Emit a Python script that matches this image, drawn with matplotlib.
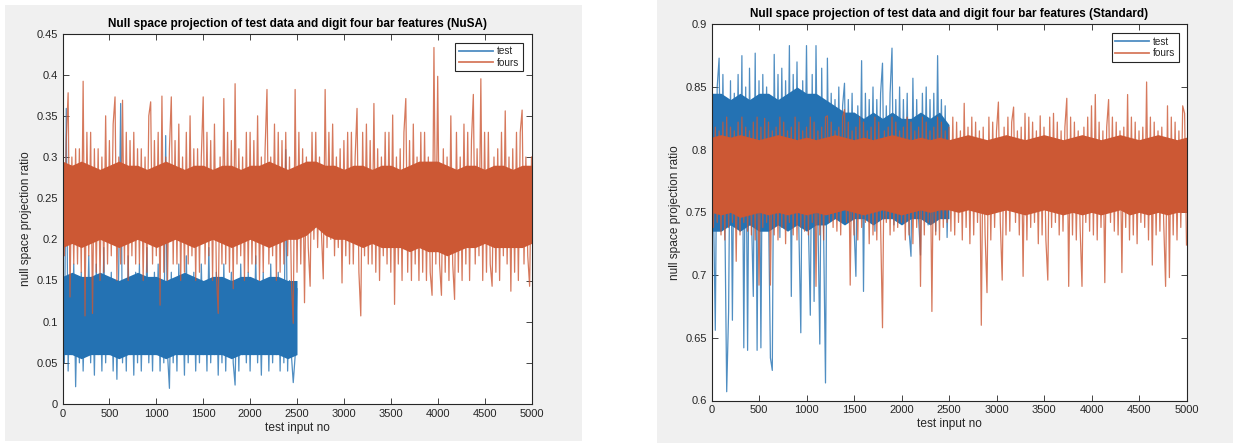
import numpy as np
import matplotlib
matplotlib.use("Agg")
import matplotlib.pyplot as plt
from matplotlib.patches import Rectangle

plt.rcParams['font.family'] = ['Liberation Sans', 'DejaVu Sans']

# ---------------- data ----------------
x_max_test = 2500
x_max_fours = 5000

# NuSA panel: test inputs (0..2500, step 20)
nusa_test = [
    0.16, 0.05, 0.359, 0.04, 0.15, 0.06, 0.17, 0.021, 0.14, 0.05,
    0.16, 0.04, 0.13, 0.06, 0.18, 0.05, 0.15, 0.035, 0.17, 0.06,
    0.14, 0.04, 0.19, 0.05, 0.15, 0.06, 0.16, 0.04, 0.14, 0.03,
    0.17, 0.365, 0.05, 0.15, 0.04, 0.18, 0.06, 0.14, 0.035, 0.16,
    0.05, 0.17, 0.04, 0.15, 0.06, 0.19, 0.05, 0.14, 0.04, 0.16,
    0.06, 0.17, 0.04, 0.15, 0.05, 0.326, 0.06, 0.019, 0.16, 0.05,
    0.14, 0.04, 0.17, 0.06, 0.15, 0.035, 0.18, 0.05, 0.14, 0.06,
    0.16, 0.04, 0.15, 0.05, 0.17, 0.06, 0.14, 0.04, 0.19, 0.05,
    0.15, 0.06, 0.16, 0.035, 0.14, 0.05, 0.17, 0.04, 0.15, 0.06,
    0.16, 0.05, 0.023, 0.15, 0.04, 0.17, 0.06, 0.14, 0.05, 0.16,
    0.04, 0.15, 0.06, 0.18, 0.05, 0.14, 0.035, 0.16, 0.06, 0.15,
    0.04, 0.17, 0.05, 0.14, 0.06, 0.16, 0.04, 0.15, 0.05, 0.309,
    0.04, 0.15, 0.06, 0.026, 0.058, 0.14,
]
# dense core of the NuSA test trace (0..2500, step 100)
nusa_test_core_lo = [0.06, 0.06, 0.055, 0.06, 0.06, 0.06, 0.055, 0.06, 0.06, 0.06,
                     0.06, 0.055, 0.06, 0.06, 0.06, 0.06, 0.06, 0.06, 0.055, 0.06,
                     0.06, 0.06, 0.06, 0.06, 0.055, 0.06]
nusa_test_core_hi = [0.155, 0.16, 0.155, 0.155, 0.16, 0.155, 0.15, 0.155, 0.16, 0.155,
                     0.155, 0.15, 0.155, 0.16, 0.155, 0.15, 0.155, 0.155, 0.15, 0.155,
                     0.155, 0.15, 0.155, 0.155, 0.15, 0.15]

# NuSA panel: digit-four bar features (0..5000, step 20)
nusa_fours = [
    0.33, 0.18, 0.32, 0.378, 0.13, 0.30, 0.17, 0.31, 0.17, 0.31,
    0.16, 0.392, 0.107, 0.33, 0.18, 0.33, 0.11, 0.31, 0.16, 0.31,
    0.15, 0.30, 0.16, 0.35, 0.17, 0.32, 0.18, 0.34, 0.373, 0.15,
    0.30, 0.17, 0.369, 0.17, 0.33, 0.15, 0.32, 0.18, 0.33, 0.17,
    0.31, 0.17, 0.31, 0.15, 0.30, 0.16, 0.35, 0.367, 0.17, 0.32,
    0.18, 0.33, 0.12, 0.374, 0.16, 0.30, 0.15, 0.31, 0.373, 0.17,
    0.32, 0.17, 0.34, 0.15, 0.30, 0.16, 0.33, 0.17, 0.35, 0.18,
    0.31, 0.15, 0.31, 0.16, 0.30, 0.373, 0.17, 0.33, 0.18, 0.32,
    0.15, 0.34, 0.16, 0.11, 0.30, 0.17, 0.371, 0.17, 0.33, 0.16,
    0.32, 0.14, 0.389, 0.17, 0.31, 0.18, 0.30, 0.15, 0.33, 0.16,
    0.33, 0.17, 0.32, 0.17, 0.35, 0.15, 0.30, 0.16, 0.31, 0.382,
    0.17, 0.30, 0.18, 0.34, 0.15, 0.33, 0.16, 0.32, 0.17, 0.33,
    0.18, 0.30, 0.15, 0.098, 0.382, 0.16, 0.33, 0.17, 0.31, 0.123,
    0.30, 0.19, 0.143, 0.33, 0.20, 0.33, 0.19, 0.30, 0.21, 0.152,
    0.382, 0.19, 0.33, 0.20, 0.34, 0.18, 0.30, 0.19, 0.31, 0.147,
    0.32, 0.18, 0.33, 0.17, 0.33, 0.17, 0.30, 0.359, 0.16, 0.107,
    0.33, 0.18, 0.34, 0.17, 0.32, 0.17, 0.365, 0.16, 0.31, 0.15,
    0.30, 0.18, 0.33, 0.17, 0.33, 0.16, 0.351, 0.121, 0.30, 0.17,
    0.31, 0.15, 0.33, 0.371, 0.16, 0.32, 0.15, 0.34, 0.17, 0.30,
    0.15, 0.33, 0.16, 0.33, 0.15, 0.30, 0.16, 0.132, 0.433, 0.17,
    0.398, 0.17, 0.132, 0.31, 0.16, 0.30, 0.15, 0.35, 0.17, 0.127,
    0.33, 0.16, 0.30, 0.15, 0.34, 0.17, 0.33, 0.15, 0.32, 0.376,
    0.17, 0.31, 0.18, 0.395, 0.15, 0.33, 0.16, 0.33, 0.17, 0.143,
    0.30, 0.16, 0.31, 0.15, 0.33, 0.18, 0.356, 0.17, 0.30, 0.137,
    0.31, 0.16, 0.33, 0.15, 0.33, 0.357, 0.17, 0.30, 0.18, 0.143,
    0.30,
]
# dense core of the NuSA fours trace (0..5000, step 100)
nusa_fours_core_lo = [0.19, 0.195, 0.19, 0.195, 0.2, 0.195, 0.19, 0.195, 0.2, 0.195,
                      0.19, 0.195, 0.2, 0.195, 0.19, 0.195, 0.2, 0.195, 0.19, 0.195,
                      0.2, 0.195, 0.19, 0.195, 0.2, 0.2, 0.205, 0.215, 0.205, 0.2,
                      0.2, 0.195, 0.19, 0.195, 0.19, 0.19, 0.19, 0.185, 0.19, 0.185,
                      0.185, 0.18, 0.185, 0.19, 0.19, 0.195, 0.19, 0.19, 0.19, 0.19,
                      0.195]
nusa_fours_core_hi = [0.295, 0.29, 0.295, 0.29, 0.285, 0.29, 0.295, 0.29, 0.29, 0.285,
                      0.29, 0.295, 0.29, 0.285, 0.29, 0.29, 0.285, 0.29, 0.29, 0.285,
                      0.29, 0.29, 0.295, 0.29, 0.285, 0.29, 0.295, 0.295, 0.29, 0.29,
                      0.285, 0.29, 0.29, 0.285, 0.29, 0.29, 0.285, 0.29, 0.295, 0.295,
                      0.295, 0.29, 0.285, 0.29, 0.29, 0.285, 0.29, 0.29, 0.285, 0.29,
                      0.29]

# Standard panel: test inputs (0..2500, step 20)
std_test = [
    0.877, 0.760, 0.656, 0.850, 0.873, 0.740, 0.860, 0.750, 0.607, 0.671,
    0.855, 0.664, 0.845, 0.745, 0.860, 0.735, 0.875, 0.642, 0.850, 0.640,
    0.865, 0.750, 0.683, 0.877, 0.640, 0.855, 0.642, 0.860, 0.740, 0.850,
    0.755, 0.634, 0.624, 0.876, 0.745, 0.860, 0.730, 0.865, 0.750, 0.855,
    0.740, 0.883, 0.683, 0.860, 0.745, 0.870, 0.735, 0.654, 0.855, 0.750,
    0.883, 0.740, 0.668, 0.860, 0.679, 0.883, 0.745, 0.645, 0.865, 0.735,
    0.614, 0.873, 0.750, 0.845, 0.760, 0.840, 0.755, 0.850, 0.745, 0.835,
    0.853, 0.750, 0.840, 0.760, 0.845, 0.740, 0.699, 0.835, 0.755, 0.871,
    0.687, 0.845, 0.750, 0.840, 0.760, 0.850, 0.735, 0.840, 0.755, 0.845,
    0.869, 0.745, 0.835, 0.750, 0.845, 0.881, 0.740, 0.840, 0.755, 0.850,
    0.745, 0.840, 0.760, 0.845, 0.735, 0.715, 0.857, 0.750, 0.840, 0.745,
    0.716, 0.845, 0.755, 0.850, 0.740, 0.840, 0.750, 0.845, 0.735, 0.875,
    0.750, 0.840, 0.745, 0.835, 0.730, 0.800,
]
# dense core of the Standard test trace (0..2500, step 100)
std_test_core_lo = [0.735, 0.735, 0.74, 0.735, 0.74, 0.735, 0.735, 0.74, 0.735, 0.74,
                    0.735, 0.74, 0.74, 0.745, 0.74, 0.745, 0.745, 0.74, 0.745, 0.745,
                    0.74, 0.745, 0.745, 0.74, 0.745, 0.745]
std_test_core_hi = [0.845, 0.845, 0.84, 0.845, 0.84, 0.845, 0.845, 0.84, 0.845, 0.85,
                    0.845, 0.845, 0.84, 0.835, 0.83, 0.83, 0.825, 0.83, 0.825, 0.83,
                    0.825, 0.825, 0.83, 0.825, 0.83, 0.82]

# Standard panel: digit-four bar features (0..5000, step 20)
std_fours = [
    0.830, 0.738, 0.818, 0.742, 0.815, 0.732, 0.822, 0.728, 0.826, 0.738,
    0.818, 0.742, 0.815, 0.711, 0.822, 0.732, 0.826, 0.742, 0.818, 0.735,
    0.815, 0.732, 0.822, 0.728, 0.826, 0.692, 0.818, 0.738, 0.825, 0.742,
    0.822, 0.692, 0.815, 0.732, 0.818, 0.728, 0.826, 0.738, 0.822, 0.725,
    0.815, 0.742, 0.818, 0.732, 0.826, 0.728, 0.822, 0.738, 0.815, 0.735,
    0.818, 0.732, 0.826, 0.742, 0.822, 0.691, 0.815, 0.732, 0.818, 0.728,
    0.826, 0.827, 0.742, 0.822, 0.738, 0.815, 0.735, 0.818, 0.732, 0.826,
    0.832, 0.742, 0.822, 0.692, 0.815, 0.732, 0.818, 0.728, 0.826, 0.738,
    0.822, 0.742, 0.815, 0.725, 0.818, 0.732, 0.826, 0.728, 0.822, 0.738,
    0.658, 0.815, 0.742, 0.818, 0.732, 0.826, 0.735, 0.822, 0.738, 0.815,
    0.742, 0.818, 0.728, 0.826, 0.732, 0.822, 0.725, 0.815, 0.738, 0.818,
    0.691, 0.826, 0.732, 0.822, 0.742, 0.815, 0.671, 0.818, 0.732, 0.826,
    0.728, 0.822, 0.738, 0.815, 0.742, 0.818, 0.735, 0.826, 0.732, 0.822,
    0.742, 0.815, 0.728, 0.837, 0.738, 0.818, 0.725, 0.826, 0.732, 0.822,
    0.742, 0.815, 0.660, 0.818, 0.732, 0.686, 0.826, 0.728, 0.822, 0.738,
    0.815, 0.838, 0.742, 0.696, 0.818, 0.732, 0.826, 0.735, 0.822, 0.834,
    0.742, 0.815, 0.732, 0.818, 0.699, 0.829, 0.728, 0.826, 0.738, 0.822,
    0.742, 0.815, 0.725, 0.827, 0.732, 0.818, 0.728, 0.696, 0.826, 0.738,
    0.829, 0.742, 0.822, 0.732, 0.815, 0.735, 0.818, 0.841, 0.691, 0.826,
    0.732, 0.822, 0.728, 0.815, 0.738, 0.691, 0.818, 0.742, 0.826, 0.735,
    0.835, 0.732, 0.844, 0.728, 0.822, 0.738, 0.815, 0.694, 0.818, 0.840,
    0.742, 0.826, 0.735, 0.822, 0.732, 0.815, 0.702, 0.818, 0.738, 0.844,
    0.728, 0.826, 0.732, 0.822, 0.725, 0.815, 0.742, 0.818, 0.738, 0.854,
    0.728, 0.826, 0.708, 0.822, 0.732, 0.815, 0.735, 0.818, 0.742, 0.691,
    0.835, 0.698, 0.826, 0.732, 0.822, 0.728, 0.815, 0.738, 0.835, 0.829,
    0.724,
]
# dense core of the Standard fours trace (0..5000, step 100)
std_fours_core_lo = [0.75, 0.748, 0.75, 0.746, 0.748, 0.75, 0.748, 0.75, 0.748, 0.75,
                     0.748, 0.75, 0.748, 0.75, 0.752, 0.75, 0.748, 0.75, 0.752, 0.75,
                     0.748, 0.75, 0.752, 0.75, 0.752, 0.752, 0.75, 0.752, 0.75, 0.748,
                     0.75, 0.752, 0.75, 0.748, 0.75, 0.752, 0.75, 0.748, 0.75, 0.748,
                     0.75, 0.748, 0.75, 0.752, 0.748, 0.75, 0.748, 0.75, 0.748, 0.75,
                     0.75]
std_fours_core_hi = [0.81, 0.812, 0.81, 0.812, 0.81, 0.808, 0.81, 0.812, 0.81, 0.808,
                     0.81, 0.808, 0.81, 0.812, 0.81, 0.808, 0.81, 0.808, 0.81, 0.812,
                     0.81, 0.808, 0.81, 0.808, 0.81, 0.808, 0.81, 0.812, 0.81, 0.808,
                     0.81, 0.812, 0.81, 0.808, 0.81, 0.812, 0.81, 0.808, 0.81, 0.812,
                     0.81, 0.808, 0.81, 0.812, 0.81, 0.808, 0.81, 0.812, 0.81, 0.808,
                     0.81]

titles = [
    "Null space projection of test data and digit four bar features (NuSA)",
    "Null space projection of test data and digit four bar features (Standard)",
]
x_label = "test input no"
y_label = "null space projection ratio"
legend_labels = ["test", "fours"]
x_ticks = list(range(0, 5001, 500))
nusa_yticks = [0, 0.05, 0.1, 0.15, 0.2, 0.25, 0.3, 0.35, 0.4, 0.45]
std_yticks = [0.6, 0.65, 0.7, 0.75, 0.8, 0.85, 0.9]

# ---------------- styling ----------------
W, H = 1233, 443
BLUE = "#2472B3"
ORANGE = "#CC5834"
AXC = "#262626"
GRAY = "#F0F0F0"

fig = plt.figure(figsize=(W / 100, H / 100), dpi=100)
fig.patch.set_facecolor("white")


def px_rect(x0, y0, x1, y1):
    return (x0 / W, 1 - y1 / H, (x1 - x0) / W, (y1 - y0) / H)


for (x0, y0, x1, y1) in [(5, 5, 582, 441), (657, 0, 1233, 443)]:
    l, b, w, h = px_rect(x0, y0, x1, y1)
    fig.add_artist(Rectangle((l, b), w, h, transform=fig.transFigure,
                             facecolor=GRAY, edgecolor="none", zorder=0))

panels = [
    dict(box=(62.5, 33.5, 531.5, 404.0), test=nusa_test, fours=nusa_fours,
         test_lo=nusa_test_core_lo, test_hi=nusa_test_core_hi,
         fours_lo=nusa_fours_core_lo, fours_hi=nusa_fours_core_hi,
         yticks=nusa_yticks, title=titles[0], leg=(8.8, 9.2)),
    dict(box=(711.5, 24.3, 1186.5, 400.5), test=std_test, fours=std_fours,
         test_lo=std_test_core_lo, test_hi=std_test_core_hi,
         fours_lo=std_fours_core_lo, fours_hi=std_fours_core_hi,
         yticks=std_yticks, title=titles[1], leg=(7.5, 9.0)),
]

for p in panels:
    x0, y0, x1, y1 = p["box"]
    ax = fig.add_axes(px_rect(x0, y0, x1, y1))
    ax.set_facecolor("white")
    xt = np.linspace(0, x_max_test, len(p["test"]))
    xf = np.linspace(0, x_max_fours, len(p["fours"]))
    xtc = np.linspace(0, x_max_test, len(p["test_lo"]))
    xfc = np.linspace(0, x_max_fours, len(p["fours_lo"]))
    ax.fill_between(xtc, p["test_lo"], p["test_hi"], color=BLUE, lw=0, zorder=2)
    l1, = ax.plot(xt, p["test"], color=BLUE, lw=0.9, alpha=0.8,
                  label=legend_labels[0], zorder=2)
    ax.fill_between(xfc, p["fours_lo"], p["fours_hi"], color=ORANGE, lw=0, zorder=3)
    l2, = ax.plot(xf, p["fours"], color=ORANGE, lw=0.9, alpha=0.8,
                  label=legend_labels[1], zorder=3)
    ax.set_xlim(0, 5000)
    ax.set_ylim(p["yticks"][0], p["yticks"][-1])
    ax.set_xticks(x_ticks)
    ax.set_yticks(p["yticks"])
    ax.set_xticklabels([f"{t:g}" for t in x_ticks])
    ax.set_yticklabels([f"{t:g}" for t in p["yticks"]])
    ax.tick_params(direction="in", length=4, width=0.6, top=True, right=True,
                   colors=AXC, labelsize=8, pad=3.5)
    for s in ax.spines.values():
        s.set_color(AXC)
        s.set_linewidth(0.8)
        s.set_zorder(5)
    ax.set_title(p["title"], fontsize=8.5, fontweight="bold", color="black", pad=5)
    ax.set_xlabel(x_label, fontsize=8.6, color=AXC, labelpad=2)
    ax.set_ylabel(y_label, fontsize=8.6, color=AXC, labelpad=3)
    w = x1 - x0
    h = y1 - y0
    dx, dy = p["leg"]
    leg = ax.legend(handles=[l1, l2], loc="upper right",
                    bbox_to_anchor=(1 - dx / w, 1 - dy / h), borderaxespad=0,
                    fancybox=False, edgecolor=AXC, framealpha=1, fontsize=7.2,
                    handlelength=3.4, handletextpad=0.4, borderpad=0.35,
                    labelspacing=0.15)
    leg.set_zorder(10)
    leg.get_frame().set_linewidth(0.8)
    for t in leg.get_texts():
        t.set_color(AXC)
    for hl in leg.get_lines():
        hl.set_linewidth(1.3)

fig.savefig("out.png", dpi=100, facecolor=fig.get_facecolor())
